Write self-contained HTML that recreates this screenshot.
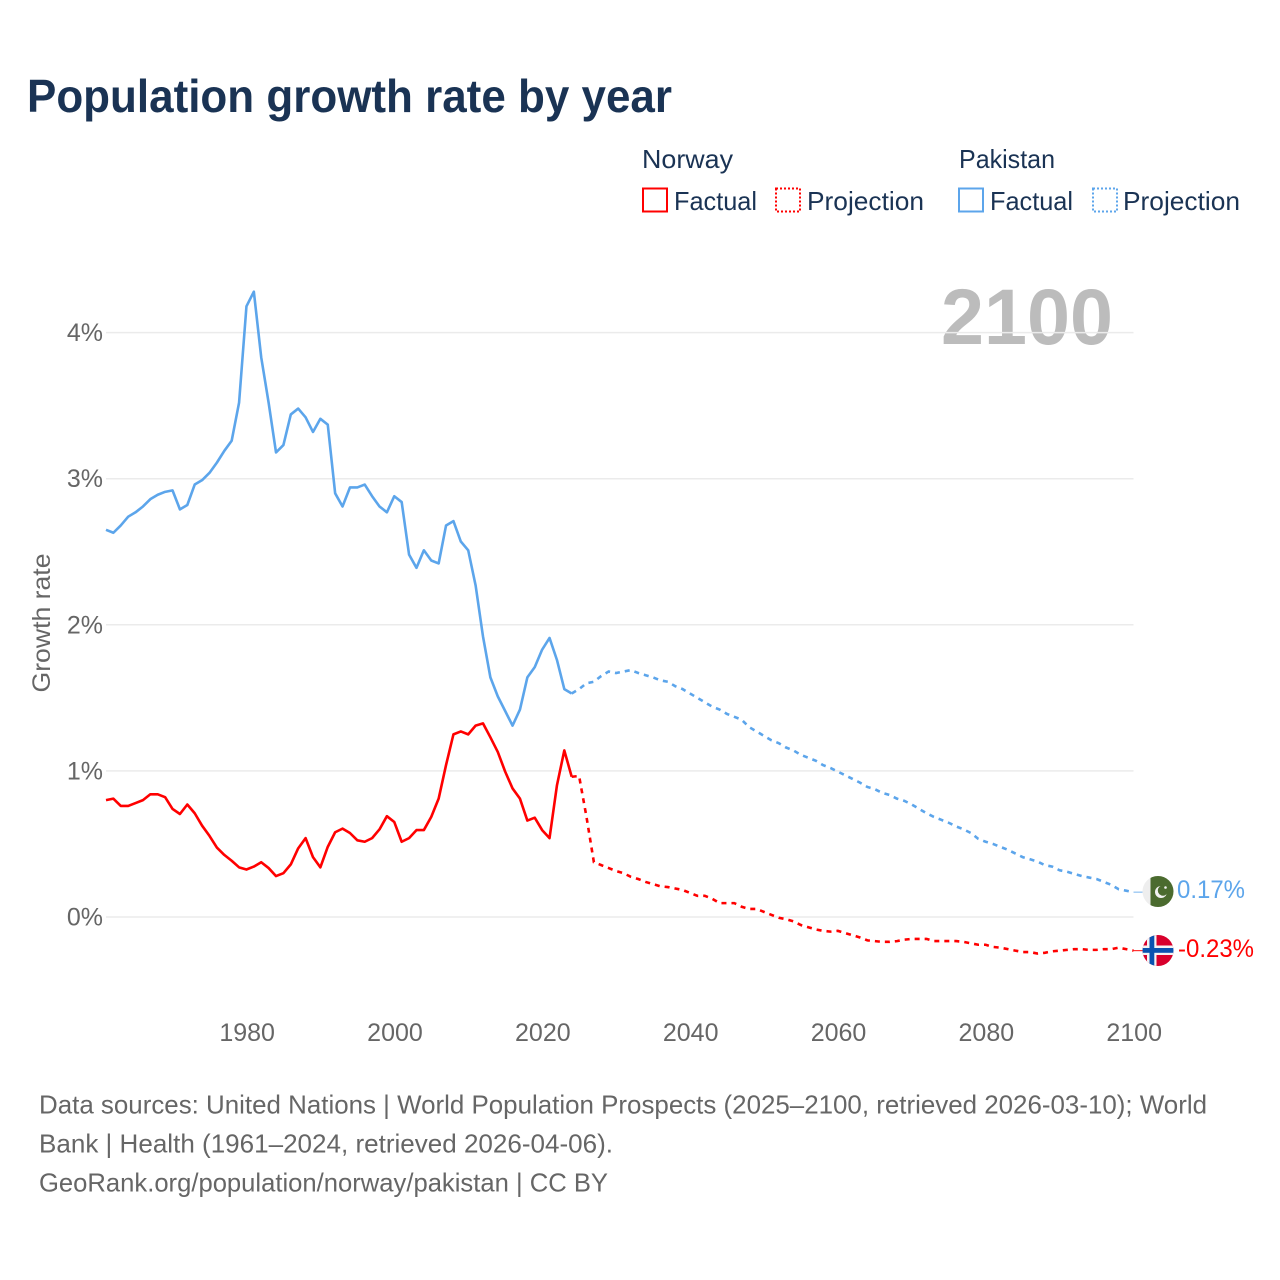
<!DOCTYPE html>
<html lang="en">
<head>
<meta charset="utf-8">
<title>Population growth rate by year</title>
<style>
html,body{margin:0;padding:0;background:#fff;width:1280px;height:1280px;overflow:hidden}
svg{display:block;font-family:"Liberation Sans",sans-serif}
</style>
</head>
<body>
<svg id="chart" width="1280" height="1280" viewBox="0 0 1280 1280" xmlns="http://www.w3.org/2000/svg">
<text x="27" y="112" font-size="46" font-weight="700" fill="#1a3354" textLength="645" lengthAdjust="spacingAndGlyphs">Population growth rate by year</text>

<g font-size="26" fill="#1a3354">
<text x="642" y="168" textLength="91" lengthAdjust="spacingAndGlyphs">Norway</text>
<rect x="643" y="188.500" width="24" height="23" fill="none" stroke="#ff0000" stroke-width="2"/>
<text x="674" y="210" textLength="83" lengthAdjust="spacingAndGlyphs">Factual</text>
<rect x="776" y="188.500" width="24" height="23" fill="none" stroke="#ff0000" stroke-width="2" stroke-dasharray="2 2"/>
<text x="807" y="210" textLength="117" lengthAdjust="spacingAndGlyphs">Projection</text>
<text x="959" y="168" textLength="96" lengthAdjust="spacingAndGlyphs">Pakistan</text>
<rect x="959" y="188.500" width="24" height="23" fill="none" stroke="#5ca5eb" stroke-width="2"/>
<text x="990" y="210" textLength="83" lengthAdjust="spacingAndGlyphs">Factual</text>
<rect x="1093" y="188.500" width="24" height="23" fill="none" stroke="#5ca5eb" stroke-width="2" stroke-dasharray="2 2"/>
<text x="1123" y="210" textLength="117" lengthAdjust="spacingAndGlyphs">Projection</text>
</g>

<text x="941" y="344" font-size="79" font-weight="700" fill="#bcbcbc" textLength="172" lengthAdjust="spacingAndGlyphs">2100</text>

<text transform="translate(50,623) rotate(-90)" text-anchor="middle" font-size="25" fill="#666666" textLength="139" lengthAdjust="spacingAndGlyphs">Growth rate</text>

<g id="grid"></g>
<g id="yticks"></g>
<g id="xticks"></g>
<g id="series"></g>

<g>
<clipPath id="pkclip"><circle cx="1158" cy="891.500" r="15.500"/></clipPath>
<g clip-path="url(#pkclip)">
<rect x="1142" y="875" width="9" height="33" fill="#eeeeee"/>
<rect x="1150.500" y="875" width="25" height="33" fill="#4b6b2f"/>
<circle cx="1161" cy="892" r="6" fill="#f2f2f2"/>
<circle cx="1163" cy="890.500" r="5.200" fill="#4b6b2f"/>
<circle cx="1165.500" cy="887.500" r="1.300" fill="#f2f2f2"/>
</g>
</g>
<text x="1177" y="898" font-size="25" fill="#5ca5eb" textLength="68" lengthAdjust="spacingAndGlyphs">0.17%</text>

<g>
<clipPath id="noclip"><circle cx="1158" cy="950.500" r="15.500"/></clipPath>
<g clip-path="url(#noclip)">
<rect x="1142" y="934" width="33" height="33" fill="#d8002c"/>
<rect x="1147" y="934" width="9.500" height="33" fill="#f4f4f4"/>
<rect x="1142" y="945.500" width="33" height="9.500" fill="#f4f4f4"/>
<rect x="1149.500" y="934" width="4.800" height="33" fill="#0a52b0"/>
<rect x="1142" y="948" width="33" height="4.800" fill="#0a52b0"/>
</g>
</g>
<text x="1178" y="957" font-size="25" fill="#ff0000" textLength="76" lengthAdjust="spacingAndGlyphs">-0.23%</text>

<g font-size="26" fill="#666666">
<text x="39" y="1113.500" textLength="1168" lengthAdjust="spacingAndGlyphs">Data sources: United Nations | World Population Prospects (2025–2100, retrieved 2026-03-10); World</text>
<text x="39" y="1152.500" textLength="574" lengthAdjust="spacingAndGlyphs">Bank | Health (1961–2024, retrieved 2026-04-06).</text>
<text x="39" y="1191.500" textLength="569" lengthAdjust="spacingAndGlyphs">GeoRank.org/population/norway/pakistan | CC BY</text>
</g>
</svg>

<script>
const factualYears = [1961,1962,1963,1964,1965,1966,1967,1968,1969,1970,1971,1972,1973,1974,1975,1976,1977,1978,1979,1980,1981,1982,1983,1984,1985,1986,1987,1988,1989,1990,1991,1992,1993,1994,1995,1996,1997,1998,1999,2000,2001,2002,2003,2004,2005,2006,2007,2008,2009,2010,2011,2012,2013,2014,2015,2016,2017,2018,2019,2020,2021,2022,2023,2024];
const projectionYears = [2024,2025,2026,2027,2028,2029,2030,2031,2032,2033,2034,2035,2036,2037,2038,2039,2040,2041,2042,2043,2044,2045,2046,2047,2048,2049,2050,2051,2052,2053,2054,2055,2056,2057,2058,2059,2060,2061,2062,2063,2064,2065,2066,2067,2068,2069,2070,2071,2072,2073,2074,2075,2076,2077,2078,2079,2080,2081,2082,2083,2084,2085,2086,2087,2088,2089,2090,2091,2092,2093,2094,2095,2096,2097,2098,2099,2100];

const pakistanFactual = [2.65,2.63,2.68,2.74,2.77,2.81,2.86,2.89,2.91,2.92,2.79,2.82,2.96,2.99,3.04,3.11,3.19,3.26,3.52,4.18,4.28,3.83,3.52,3.18,3.23,3.44,3.48,3.42,3.32,3.41,3.37,2.90,2.81,2.94,2.94,2.96,2.88,2.81,2.77,2.88,2.84,2.48,2.39,2.51,2.44,2.42,2.68,2.71,2.57,2.51,2.27,1.92,1.64,1.51,1.41,1.31,1.42,1.64,1.71,1.83,1.91,1.76,1.56,1.53];
const pakistanProjection = [1.53,1.56,1.60,1.61,1.65,1.68,1.67,1.68,1.69,1.67,1.655,1.64,1.62,1.61,1.58,1.56,1.53,1.50,1.47,1.44,1.42,1.39,1.37,1.35,1.30,1.27,1.24,1.21,1.19,1.16,1.14,1.11,1.09,1.07,1.04,1.02,0.995,0.97,0.945,0.92,0.89,0.875,0.85,0.835,0.81,0.795,0.77,0.74,0.71,0.685,0.665,0.645,0.62,0.60,0.575,0.535,0.515,0.50,0.48,0.46,0.435,0.41,0.395,0.38,0.355,0.345,0.32,0.31,0.295,0.28,0.27,0.26,0.24,0.22,0.19,0.18,0.17];

const norwayFactual = [0.80,0.81,0.76,0.76,0.78,0.80,0.84,0.84,0.82,0.74,0.705,0.77,0.71,0.625,0.555,0.475,0.425,0.385,0.34,0.325,0.345,0.375,0.335,0.28,0.30,0.36,0.47,0.54,0.41,0.34,0.48,0.58,0.605,0.575,0.525,0.515,0.54,0.60,0.69,0.65,0.515,0.54,0.595,0.595,0.685,0.81,1.04,1.25,1.27,1.25,1.31,1.325,1.23,1.13,0.995,0.88,0.81,0.66,0.68,0.595,0.54,0.90,1.14,0.96];
const norwayProjection = [0.96,0.965,0.685,0.375,0.355,0.335,0.315,0.30,0.275,0.26,0.24,0.225,0.21,0.205,0.195,0.185,0.165,0.145,0.145,0.125,0.095,0.095,0.095,0.07,0.055,0.055,0.035,0.015,-0.005,-0.015,-0.03,-0.055,-0.07,-0.085,-0.095,-0.10,-0.095,-0.11,-0.125,-0.14,-0.16,-0.165,-0.17,-0.17,-0.165,-0.155,-0.15,-0.15,-0.15,-0.165,-0.165,-0.165,-0.165,-0.17,-0.18,-0.19,-0.19,-0.205,-0.21,-0.22,-0.23,-0.24,-0.24,-0.25,-0.245,-0.235,-0.23,-0.225,-0.22,-0.22,-0.225,-0.225,-0.22,-0.22,-0.21,-0.22,-0.23];

const yTickValues = [0,1,2,3,4];
const yTickLabels = ["0%","1%","2%","3%","4%"];
const xTickYears = [1980,2000,2020,2040,2060,2080,2100];

const SVGNS = "http://www.w3.org/2000/svg";
const xScale = function (year) { return 106 + (year - 1961) * (1133.5 - 106) / (2100 - 1961); };
const yScale = function (value) { return 917 - value * 146.1; };

function linePath(years, values) {
  return years.map(function (year, i) {
    return (i ? "L" : "M") + xScale(year).toFixed(2) + " " + yScale(values[i]).toFixed(2);
  }).join(" ");
}

const grid = document.getElementById("grid");
const yticks = document.getElementById("yticks");
yTickValues.forEach(function (value, i) {
  const rule = document.createElementNS(SVGNS, "line");
  
  
  rule.setAttribute("x1", 106);
  rule.setAttribute("x2", 1133.5);
  rule.setAttribute("y1", yScale(value));
  rule.setAttribute("y2", yScale(value));
  rule.setAttribute("stroke", "#ebebeb");
  rule.setAttribute("stroke-width", "1.5");
  grid.appendChild(rule);

  const tick = document.createElementNS(SVGNS, "text");
  
  
  tick.setAttribute("x", 103);
  tick.setAttribute("y", yScale(value) + 8.5);
  tick.setAttribute("text-anchor", "end");
  tick.setAttribute("font-size", "25");
  tick.setAttribute("fill", "#666666");
  tick.textContent = yTickLabels[i];
  yticks.appendChild(tick);
});

const xticks = document.getElementById("xticks");
xTickYears.forEach(function (year) {
  const tick = document.createElementNS(SVGNS, "text");
  
  
  tick.setAttribute("x", xScale(year) + 0.7);
  tick.setAttribute("y", 1041);
  tick.setAttribute("text-anchor", "middle");
  tick.setAttribute("font-size", "25");
  tick.setAttribute("fill", "#666666");
  tick.textContent = String(year);
  xticks.appendChild(tick);
});

const series = document.getElementById("series");

const pakistanFactualLine = document.createElementNS(SVGNS, "path");


pakistanFactualLine.setAttribute("d", linePath(factualYears, pakistanFactual));
pakistanFactualLine.setAttribute("fill", "none");
pakistanFactualLine.setAttribute("stroke", "#5ca5eb");
pakistanFactualLine.setAttribute("stroke-width", "2.6");
pakistanFactualLine.setAttribute("stroke-linejoin", "round");
series.appendChild(pakistanFactualLine);

const pakistanProjectionLine = document.createElementNS(SVGNS, "path");


pakistanProjectionLine.setAttribute("d", linePath(projectionYears, pakistanProjection));
pakistanProjectionLine.setAttribute("fill", "none");
pakistanProjectionLine.setAttribute("stroke", "#5ca5eb");
pakistanProjectionLine.setAttribute("stroke-width", "2.6");
pakistanProjectionLine.setAttribute("stroke-dasharray", "5 5");
series.appendChild(pakistanProjectionLine);

const norwayFactualLine = document.createElementNS(SVGNS, "path");


norwayFactualLine.setAttribute("d", linePath(factualYears, norwayFactual));
norwayFactualLine.setAttribute("fill", "none");
norwayFactualLine.setAttribute("stroke", "#ff0000");
norwayFactualLine.setAttribute("stroke-width", "2.6");
norwayFactualLine.setAttribute("stroke-linejoin", "round");
series.appendChild(norwayFactualLine);

const norwayProjectionLine = document.createElementNS(SVGNS, "path");


norwayProjectionLine.setAttribute("d", linePath(projectionYears, norwayProjection));
norwayProjectionLine.setAttribute("fill", "none");
norwayProjectionLine.setAttribute("stroke", "#ff0000");
norwayProjectionLine.setAttribute("stroke-width", "2.6");
norwayProjectionLine.setAttribute("stroke-dasharray", "5 5");
series.appendChild(norwayProjectionLine);

const pakistanConnector = document.createElementNS(SVGNS, "line");


pakistanConnector.setAttribute("x1", xScale(2100));
pakistanConnector.setAttribute("x2", xScale(2100) + 9);
pakistanConnector.setAttribute("y1", yScale(pakistanProjection[pakistanProjection.length - 1]));
pakistanConnector.setAttribute("y2", yScale(pakistanProjection[pakistanProjection.length - 1]));
pakistanConnector.setAttribute("stroke", "#5ca5eb");
pakistanConnector.setAttribute("stroke-opacity", "0.7");
pakistanConnector.setAttribute("stroke-width", "1.2");
series.appendChild(pakistanConnector);

const norwayConnector = document.createElementNS(SVGNS, "line");


norwayConnector.setAttribute("x1", xScale(2100));
norwayConnector.setAttribute("x2", xScale(2100) + 9);
norwayConnector.setAttribute("y1", yScale(norwayProjection[norwayProjection.length - 1]));
norwayConnector.setAttribute("y2", yScale(norwayProjection[norwayProjection.length - 1]));
norwayConnector.setAttribute("stroke", "#ff0000");
norwayConnector.setAttribute("stroke-opacity", "0.8");
norwayConnector.setAttribute("stroke-width", "1.2");
series.appendChild(norwayConnector);
</script>
</body>
</html>
